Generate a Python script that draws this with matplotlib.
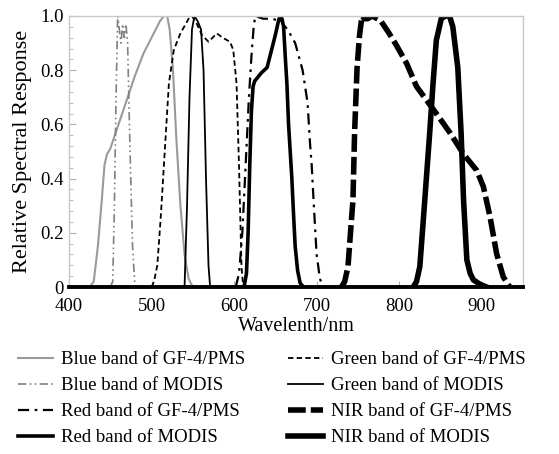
import numpy as np
import matplotlib.pyplot as plt
from matplotlib.ticker import FixedLocator, FixedFormatter, MultipleLocator

plt.rcParams['font.family'] = ['Liberation Serif', 'DejaVu Serif']

# ------------------------------------------------------
# Spectral response data
# ------------------------------------------------------
blue_gf_wl = [425, 430, 435, 440, 443, 446, 450, 460, 470, 480, 490, 500, 510, 515, 519, 522, 526, 530, 535, 540, 545, 550]
blue_gf_r = [0, 0.02, 0.15, 0.33, 0.45, 0.49, 0.51, 0.60, 0.69, 0.78, 0.86, 0.92, 0.98, 1.0, 1.0, 0.95, 0.80, 0.55, 0.30, 0.12, 0.03, 0]

blue_modis_wl = [450, 453, 455, 457, 459, 461, 463, 465, 467, 469, 471, 474, 477, 480]
blue_modis_r = [0, 0.02, 0.30, 0.70, 1.0, 0.95, 0.90, 0.97, 0.92, 0.97, 0.90, 0.50, 0.15, 0]

red_gf_wl = [602, 606, 610, 614, 618, 621, 624, 626, 635, 645, 652, 656, 659, 665, 674, 683, 689, 692, 694, 697, 700, 704, 708]
red_gf_r = [0, 0.05, 0.20, 0.45, 0.70, 0.85, 0.97, 1.0, 0.99, 0.99, 0.985, 0.99, 0.97, 0.95, 0.90, 0.80, 0.68, 0.53, 0.45, 0.28, 0.12, 0.03, 0]

red_modis_wl = [612, 615, 617, 619, 621, 623, 625, 633, 640, 645, 650, 654, 656, 658, 660, 662, 664, 666, 668, 670, 672, 674, 677, 680, 684]
red_modis_r = [0, 0.05, 0.20, 0.45, 0.65, 0.74, 0.76, 0.79, 0.81, 0.87, 0.93, 0.985, 1.0, 0.99, 0.96, 0.85, 0.75, 0.60, 0.50, 0.40, 0.27, 0.15, 0.06, 0.015, 0]

green_gf_wl = [500, 503, 507, 511, 515, 521, 527, 535, 545, 549, 555, 561, 569, 574, 579, 586, 595, 599, 603, 606, 609, 611]
green_gf_r = [0, 0.02, 0.08, 0.25, 0.45, 0.75, 0.875, 0.936, 0.99, 1.0, 0.97, 0.93, 0.905, 0.92, 0.936, 0.92, 0.905, 0.875, 0.75, 0.445, 0.075, 0]

green_modis_wl = [540, 543, 546, 549, 552, 556, 560, 563, 566, 569, 571]
green_modis_r = [0, 0.30, 0.70, 0.95, 1.0, 0.98, 0.95, 0.80, 0.40, 0.08, 0]

nir_gf_wl = [730, 734, 738, 741, 744, 746, 749, 752, 755, 758, 762, 767, 777, 787, 797, 809, 821, 833, 845, 862, 878, 894, 902, 910, 918, 926, 934]
nir_gf_r = [0, 0.02, 0.075, 0.2, 0.32, 0.57, 0.81, 0.93, 1.0, 0.99, 0.99, 1.0, 0.985, 0.94, 0.89, 0.825, 0.74, 0.69, 0.64, 0.567, 0.49, 0.43, 0.37, 0.26, 0.124, 0.038, 0]

nir_modis_wl = [817, 821, 825, 831, 837, 841, 845, 851, 856, 861, 865, 871, 875, 878, 882, 886, 890, 898, 906]
nir_modis_r = [0, 0.02, 0.075, 0.32, 0.57, 0.75, 0.91, 0.99, 1.0, 1.0, 0.96, 0.81, 0.57, 0.32, 0.10, 0.05, 0.026, 0.01, 0]

y_ticks = [0, 0.2, 0.4, 0.6, 0.8, 1.0]
y_labels = ["0", "0.2", "0.4", "0.6", "0.8", "1.0"]
x_ticks = [400, 500, 600, 700, 800, 900]

# ------------------------------------------------------
# Figure
# ------------------------------------------------------
fig = plt.figure(figsize=(5.59, 4.54), dpi=100)
ax = fig.add_axes([0.1234, 0.3678, 0.8122, 0.597])

ax.plot(blue_gf_wl, blue_gf_r, color="#9a9a9a", lw=1.5, label="Blue band of GF-4/PMS")
ax.plot(blue_modis_wl, blue_modis_r, color="#808080", lw=1.2,
        dashes=[5, 2, 1, 2, 1, 2], label="Blue band of MODIS")
ax.plot(red_gf_wl, red_gf_r, color="black", lw=1.6,
        dashes=[5, 2.5, 1.2, 2.5], label="Red band of GF-4/PMS")
ax.plot(red_modis_wl, red_modis_r, color="black", lw=2.6, label="Red band of MODIS")
ax.plot(green_gf_wl, green_gf_r, color="black", lw=1.3,
        dashes=[3, 1.8], label="Green band of GF-4/PMS")
ax.plot(green_modis_wl, green_modis_r, color="black", lw=1.3, label="Green band of MODIS")
ax.plot(nir_gf_wl, nir_gf_r, color="black", lw=4,
        dashes=[3.2, 0.9], label="NIR band of GF-4/PMS")
ax.plot(nir_modis_wl, nir_modis_r, color="black", lw=4, label="NIR band of MODIS")

ax.set_xlim(400, 950)
ax.set_ylim(0, 1.0)
ax.yaxis.set_major_locator(FixedLocator(y_ticks))
ax.yaxis.set_major_formatter(FixedFormatter(y_labels))
ax.yaxis.set_minor_locator(MultipleLocator(0.04))
ax.set_xticks(x_ticks)

for s in ("left", "top", "right"):
    ax.spines[s].set_color("#c8c8c8")
    ax.spines[s].set_linewidth(1.0)
ax.spines["bottom"].set_color("black")
ax.spines["bottom"].set_linewidth(2.8)

ax.tick_params(axis="both", which="both", direction="in", colors="#b0b0b0",
               labelcolor="black", labelsize=13.5)
ax.tick_params(axis="y", which="major", length=5, pad=4)
ax.tick_params(axis="y", which="minor", length=3)
ax.tick_params(axis="x", which="major", length=4, pad=8)

ax.set_xlabel("Wavelenth/nm", fontsize=14.5, labelpad=1)
ax.set_ylabel("Relative Spectral Response", fontsize=16, labelpad=6)

fig.legend(loc="upper left", bbox_to_anchor=(0.032, 0.227), ncol=2,
           frameon=False, fontsize=13.5, handlelength=1.85, handletextpad=0.45,
           columnspacing=2.3, labelspacing=0.48, borderpad=0, borderaxespad=0)

fig.savefig("out.png", dpi=100)
